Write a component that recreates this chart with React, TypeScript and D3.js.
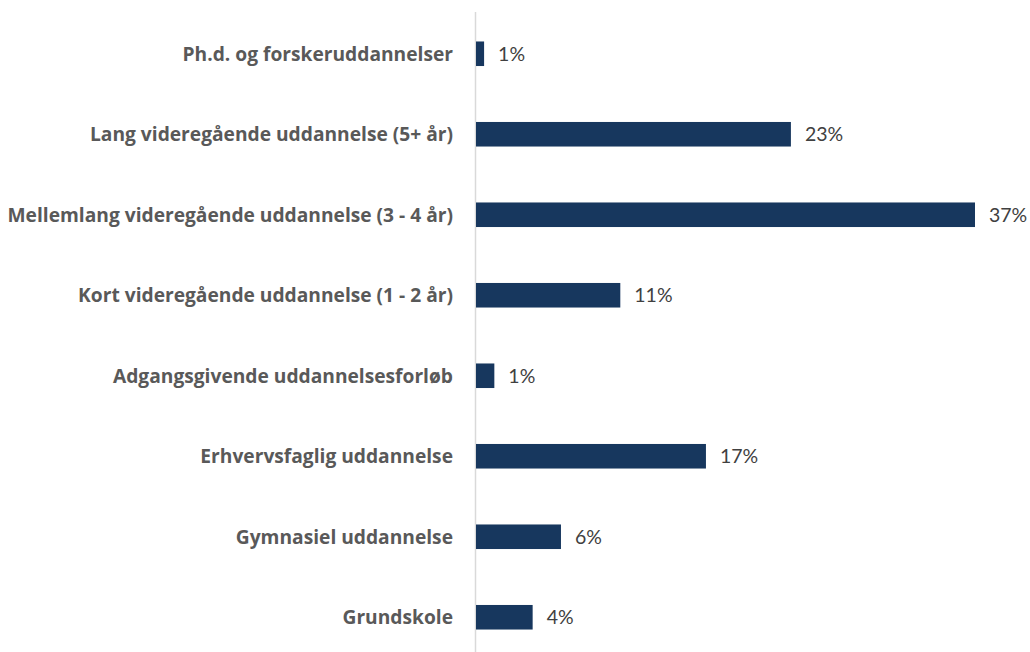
import React from "react";
import * as d3 from "d3";

const categories = [
  "Ph.d. og forskeruddannelser",
  "Lang videregående uddannelse (5+ år)",
  "Mellemlang videregående uddannelse (3 - 4 år)",
  "Kort videregående uddannelse (1 - 2 år)",
  "Adgangsgivende uddannelsesforløb",
  "Erhvervsfaglig uddannelse",
  "Gymnasiel uddannelse",
  "Grundskole",
];
const values = [0.6, 23.35, 37.0, 10.7, 1.36, 17.05, 6.3, 4.2];
const labels = ["1%", "23%", "37%", "11%", "1%", "17%", "6%", "4%"];

const W = 1030;
const H = 652;
const axisX = 475.5;

export default function App() {
  const x = d3.scaleLinear().domain([0, 37]).range([axisX + 0.5, 975]);
  const y = d3
    .scaleBand<string>()
    .domain(categories)
    .range([13.5, 657.5])
    .paddingInner(0.695)
    .paddingOuter(0.3475);
  return (
    <svg
      width={W}
      height={H}
      style={{ position: "absolute", left: 0, top: 0, background: "#fff" }}
    >
      <line x1={axisX} x2={axisX} y1={12} y2={652} stroke="#d9d9d9" strokeWidth={1.5} />
      {categories.map((c, i) => {
        const yy = y(c)!;
        const bw = y.bandwidth();
        return (
          <g key={c}>
            <rect x={x(0)} y={yy} width={x(values[i]) - x(0)} height={bw} fill="#17375e" />
            <text
              x={453}
              y={yy + bw / 2}
              dy="0.36em"
              textAnchor="end"
              fontFamily="'Open Sans', sans-serif"
              fontWeight="bold"
              fontSize={19.2}
              fill="#595959"
            >
              {c}
            </text>
            <text
              x={x(values[i]) + 14}
              y={yy + bw / 2}
              dy="0.36em"
              fontFamily="Lato, sans-serif"
              fontSize={19.5}
              fill="#404040"
            >
              {labels[i]}
            </text>
          </g>
        );
      })}
    </svg>
  );
}
